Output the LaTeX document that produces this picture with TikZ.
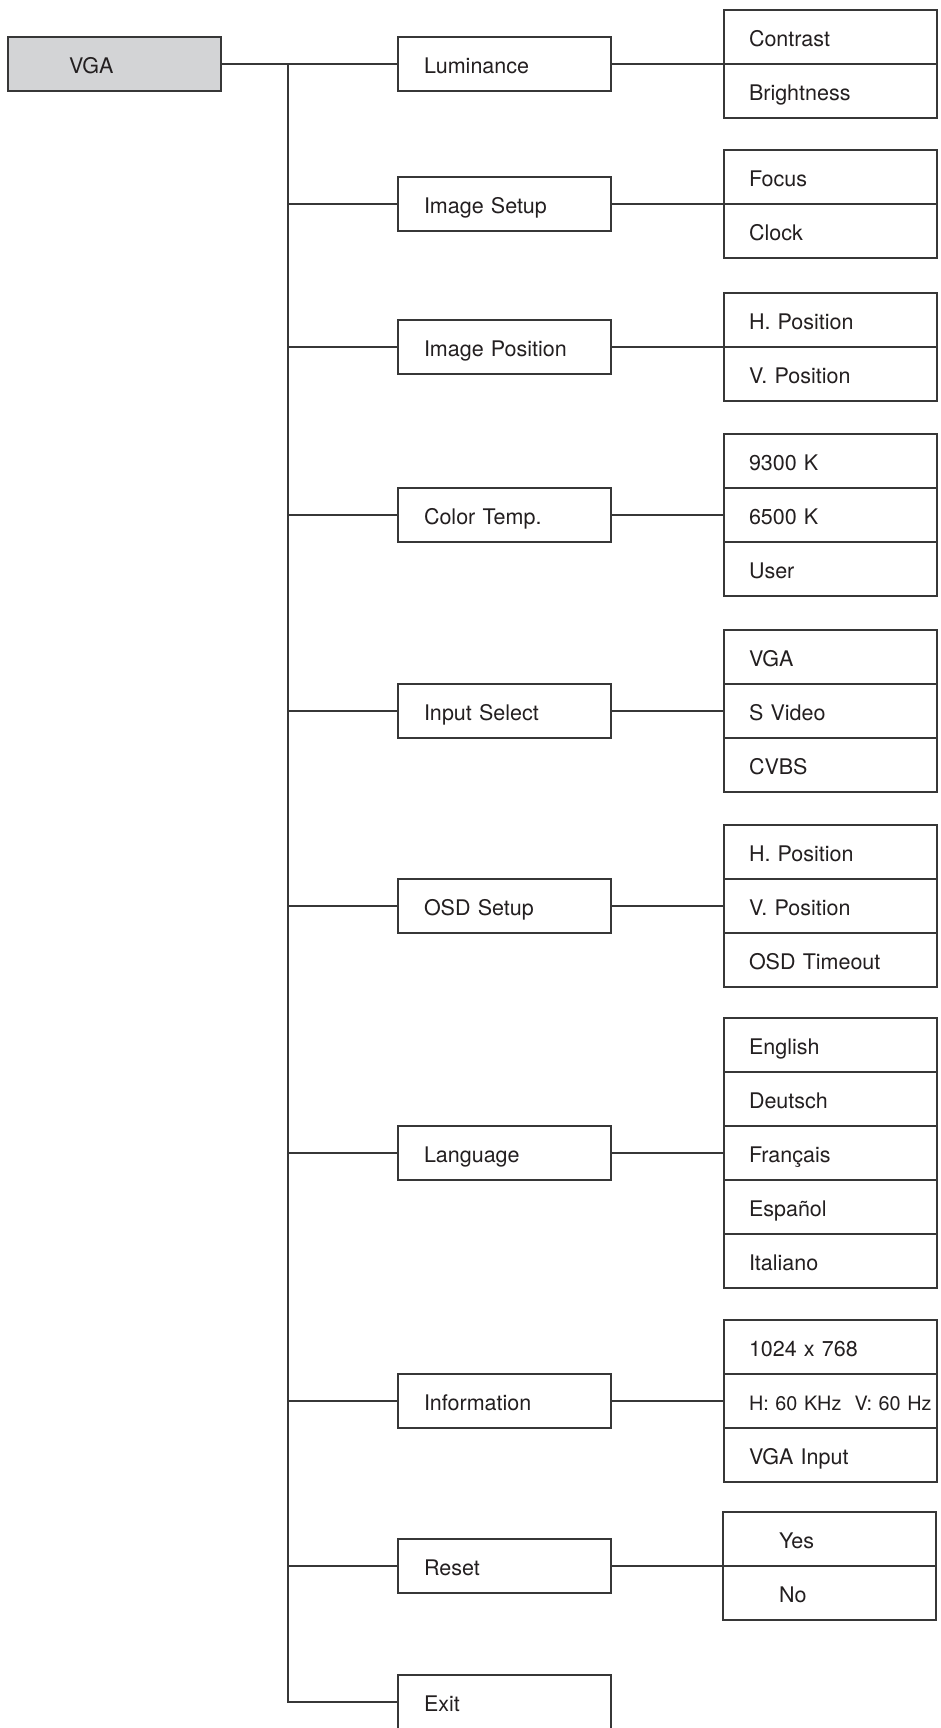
\documentclass[tikz,border=0pt]{standalone}
\usepackage{fontspec}
\setmainfont{TeX Gyre Heros}
\usepackage{tikz}
\usetikzlibrary{positioning}
\definecolor{boxgray}{RGB}{211,212,214}
\definecolor{linegray}{RGB}{55,55,55}
\definecolor{inkgray}{RGB}{35,31,32}

\begin{document}
\begin{tikzpicture}[x=1pt,y=-1pt,-,line width=1.1pt,node distance=54pt,
  main node/.style={rectangle,draw=linegray,fill=white,text=inkgray,
    minimum height=54pt,inner xsep=#1,text width=213pt-2*#1,align=left,
    text height=19pt,text depth=0.5pt,font=\fontsize{21.5}{25}\selectfont},
  main node/.default=26pt,
  root node/.style={main node=61pt,fill=boxgray},
  item node/.style={main node=25pt},
  choice node/.style={main node=56pt}]
  \useasboundingbox (0,0) rectangle (940,1728);

  \node[root node] (vga)   at (114.5,64)   {VGA};
  \node[main node] (lum)   at (504.5,64)   {Luminance};
  \node[main node] (setup) at (504.5,204)  {Image Setup};
  \node[main node] (pos)   at (504.5,347)  {Image Position};
  \node[main node] (temp)  at (504.5,515)  {Color Temp.};
  \node[main node] (input) at (504.5,711)  {Input Select};
  \node[main node] (osd)   at (504.5,906)  {OSD Setup};
  \node[main node] (lang)  at (504.5,1153) {Language};
  \node[main node] (info)  at (504.5,1401) {Information};
  \node[main node] (reset) at (504.5,1566) {Reset};
  \node[main node] (exit)  at (504.5,1702) {Exit};

  \node[item node] (contrast) at (830.5,37) {Contrast};
  \node[item node] (bright)   [below of=contrast] {Brightness};

  \node[item node] (focus) at (830.5,177) {Focus};
  \node[item node] (clock) [below of=focus] {Clock};

  \node[item node] (hpos) at (830.5,320) {H. Position};
  \node[item node] (vpos) [below of=hpos] {V. Position};

  \node[item node] (k9300) at (830.5,461) {9300 K};
  \node[item node] (k6500) [below of=k9300] {6500 K};
  \node[item node] (user)  [below of=k6500] {User};

  \node[item node] (invga)  at (830.5,657) {VGA};
  \node[item node] (svideo) [below of=invga] {S Video};
  \node[item node] (cvbs)   [below of=svideo] {CVBS};

  \node[item node] (osdh)    at (830.5,852) {H. Position};
  \node[item node] (osdv)    [below of=osdh] {V. Position};
  \node[item node] (timeout) [below of=osdv] {OSD Timeout};

  \node[item node] (english) at (830.5,1045) {English};
  \node[item node] (deutsch) [below of=english] {Deutsch};
  \node[item node] (french)  [below of=deutsch] {Français};
  \node[item node] (spanish) [below of=french] {Español};
  \node[item node] (italian) [below of=spanish] {Italiano};

  \node[item node] (mode)  at (830.5,1347) {1024 x 768};
  \node[item node,font=\fontsize{19.8}{25}\selectfont] (freq) [below of=mode]
    {\mbox{H: 60 KHz~~V: 60 Hz}};
  \node[item node] (vgain) [below of=freq] {VGA Input};

  \node[choice node] (yes) at (829.5,1539) {Yes};
  \node[choice node] (no)  [below of=yes] {No};

  \coordinate (trunk) at (288,64);

  \draw[linegray] (trunk) |- (exit);
  \path[draw=linegray]
    (vga) edge (lum)
    (trunk |- setup.west) edge (setup)
    (trunk |- pos.west)   edge (pos)
    (trunk |- temp.west)  edge (temp)
    (trunk |- input.west) edge (input)
    (trunk |- osd.west)   edge (osd)
    (trunk |- lang.west)  edge (lang)
    (trunk |- info.west)  edge (info)
    (trunk |- reset.west) edge (reset)
    (lum)   edge (lum.east -| contrast.west)
    (setup) edge (setup.east -| focus.west)
    (pos)   edge (pos.east -| hpos.west)
    (temp)  edge (temp.east -| k6500.west)
    (input) edge (input.east -| svideo.west)
    (osd)   edge (osd.east -| osdv.west)
    (lang)  edge (lang.east -| french.west)
    (info)  edge (info.east -| freq.west)
    (reset) edge (reset.east -| yes.west);
\end{tikzpicture}
\end{document}
